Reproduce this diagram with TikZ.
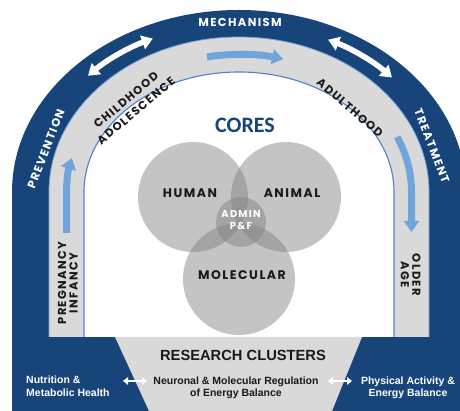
\documentclass[tikz,border=0pt]{standalone}
\usepackage{fontspec}
\usetikzlibrary{arrows.meta}
\newfontfamily\geo{Poppins}[LetterSpace=12]
\newfontfamily\arl{Liberation Sans}
\newfontfamily\calfont{Carlito}
\definecolor{dblue}{RGB}{23,69,122}
\definecolor{lblue}{RGB}{111,165,220}
\definecolor{mblue}{RGB}{79,129,200}
\definecolor{pblue}{RGB}{120,160,215}
\definecolor{bandgray}{RGB}{217,217,217}
\definecolor{coregray}{RGB}{130,130,130}
\definecolor{ink}{RGB}{25,25,25}
\begin{document}
\begin{tikzpicture}[x=1pt,y=1pt,
  band/.style={font=\geo\bfseries\fontsize{11.5}{12}\selectfont, inner sep=0pt, align=center, text=ink},
  corelbl/.style={font=\geo\bfseries\fontsize{12.5}{13}\selectfont, inner sep=0pt, text=ink},
  corecirc/.style={circle, fill=coregray, fill opacity=0.47, draw=none, inner sep=0pt},
  bot/.style={font=\arl\bfseries\fontsize{10.5}{12.5}\selectfont, inner sep=0pt},
  flow/.style={lblue, line width=7pt, -{Triangle[width=15pt,length=11pt]}},
  swap/.style={white, line width=5.5pt, {Triangle[width=14pt,length=11pt]}-{Triangle[width=14pt,length=11pt]}},
  link/.style={white, line width=2.6pt, {Triangle[width=7.5pt,length=5pt]}-{Triangle[width=7.5pt,length=5pt]}}
]
\useasboundingbox (0,0) rectangle (460,411);
\clip (0,0) rectangle (460,411);
\fill[white] (0,0) rectangle (460,411);
% dark arch and bottom band
\fill[dblue] (12,74) -- (12,219) arc[start angle=180,end angle=0,x radius=227,y radius=182] -- (466,74) -- cycle;
\fill[dblue] (12,0) rectangle (466,74);
% gray band and white interior
\fill[bandgray] (49,74) -- (49,219) arc[start angle=180,end angle=0,x radius=190,y radius=155] -- (429,74) -- cycle;
\fill[white] (84,74) -- (84,219) arc[start angle=180,end angle=0,x radius=155,y radius=120] -- (394,74) -- cycle;
\draw[pblue, line width=0.8pt] (49,74) -- (49,219) arc[start angle=180,end angle=0,x radius=190,y radius=155] -- (429,74);
\draw[mblue, line width=1.1pt] (84,74) -- (84,219) arc[start angle=180,end angle=0,x radius=155,y radius=120] -- (394,74);
% bottom trapezoid
\fill[bandgray] (115,74) -- (362,74) -- (332,0) -- (149,0) -- cycle;
% flow arrows in the gray band
\draw[flow] (66.5,178) -- (66.5,219) arc[start angle=180,end angle=165.7,x radius=172.5,y radius=137.5];
\draw[flow] (207,354.1) arc[start angle=100.7,end angle=75.2,x radius=172.5,y radius=137.5];
\draw[flow] (397.1,274.1) arc[start angle=23.6,end angle=0,x radius=172.5,y radius=137.5] -- (411.5,179);
% double arrows in the dark band
\draw[swap] (88,335.2) arc[start angle=136.4,end angle=114.4,x radius=208.5,y radius=168.5];
\draw[swap] (328.1,371.3) arc[start angle=64.7,end angle=42.8,x radius=208.5,y radius=168.5];
% arch labels
\node[band, text=white] (mech) at (240,389) {MECHANISM};
\node[band, text=white, rotate=69] (prev) at (46,262) {PREVENTION};
\node[band, text=white, rotate=-69] (treat) at (432,265) {TREATMENT};
\node[band, rotate=40] (child) at (126,311) {CHILDHOOD};
\node[band, rotate=40] (adol) at (136,300) {ADOLESCENCE};
\node[band, rotate=-41] (adult) at (350,303) {ADULTHOOD};
\node[band, rotate=90] (preg) at (62,128) {PREGNANCY};
\node[band, rotate=90] (inf) at (73.5,128) {INFANCY};
\node[band, rotate=-90] (old) at (416.5,136) {OLDER};
\node[band, rotate=-90] (age) at (405,136) {AGE};
% cores
\node[font=\calfont\bfseries\fontsize{22}{24}\selectfont, text=dblue, inner sep=0pt] (cores) at (245,286) {CORES};
\node[corecirc, minimum size=110pt] (human) at (193,214) {};
\node[corecirc, minimum size=110pt] (animal) at (286,214) {};
\node[corecirc, minimum size=112pt] (molec) at (239,132) {};
\node[corecirc, minimum size=50pt] (admin) at (241,189) {};
\node[corelbl] (humanl) at (190,218) {HUMAN};
\node[corelbl] (animall) at (292,218) {ANIMAL};
\node[corelbl] (molecl) at (242,136) {MOLECULAR};
\node[font=\geo\bfseries\fontsize{10}{11.5}\selectfont, text=white, align=center, inner sep=0pt] (adminl) at (241,191) {ADMIN\\P\&F};
% research clusters
\node[font=\arl\bfseries\fontsize{14.7}{16}\selectfont, inner sep=0pt, text=ink] (rc) at (243,55.5) {RESEARCH CLUSTERS};
\node[bot, text=white, align=left, anchor=west] (nut) at (26,24.5) {Nutrition \&\\Metabolic Health};
\node[bot, text=ink, align=center] (neur) at (236,23) {Neuronal \& Molecular Regulation\\of Energy Balance};
\node[bot, text=white, align=center] (phys) at (408,23) {Physical Activity \&\\Energy Balance};
\coordinate (l1) at (123,30);
\coordinate (l2) at (147,30);
\coordinate (r1) at (328,30);
\coordinate (r2) at (352,30);
\draw[link] (l1) -- (l2);
\draw[link] (r1) -- (r2);
\end{tikzpicture}
\end{document}
